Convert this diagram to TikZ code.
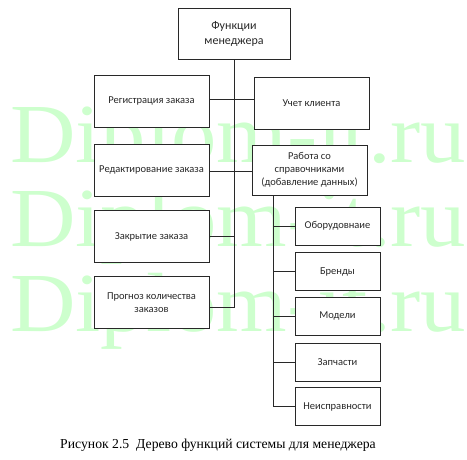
\documentclass[tikz,border=0pt]{standalone}
\usepackage{fontspec}
\setmainfont{Carlito}
\newfontfamily\capfont{Liberation Serif}
\definecolor{lineclr}{RGB}{40,40,40}
\definecolor{wmclr}{RGB}{205,255,205}
\tikzset{
    fbox/.style={draw=lineclr, fill=white, line width=0.9pt, align=center,
        inner sep=1pt, text=lineclr, font=\fontsize{10.5}{13}\selectfont},
    link/.style={draw=lineclr, line width=0.9pt},
    wmark/.style={text=wmclr, anchor=base west, inner sep=0pt,
        font=\capfont\fontsize{84}{84}\selectfont, xscale=1.08}
}
\begin{document}
\begin{tikzpicture}[x=1pt, y=-1pt]
    \useasboundingbox (0,0) rectangle (467,460);
    % watermark
    \node[wmark] (wm1) at (10,163) {Diplom-it.ru};
    \node[wmark] (wm2) at (10,247) {Diplom-it.ru};
    \node[wmark] (wm3) at (10,331) {Diplom-it.ru};
    % root
    \node[fbox, minimum width=112pt, minimum height=51pt, font=\fontsize{12}{15}\selectfont] (root) at (234,33.5) {Функции\\менеджера};
    % left column
    \begin{scope}[every node/.append style={fbox, minimum width=115pt, minimum height=52pt}]
        \node (reg)   at (151.5,101)   {Регистрация заказа};
        \node (edit)  at (151.5,170)   {Редактирование заказа};
        \node (close) at (151.5,236.5) {Закрытие заказа};
        \node (fcast) at (151.5,302.5) {Прогноз количества\\заказов};
    \end{scope}
    % right column
    \node[fbox, minimum width=115pt, minimum height=52pt] (client) at (311.5,103) {Учет клиента};
    \node[fbox, minimum width=115pt, minimum height=50pt] (refs) at (309.5,170) {Работа со\\справочниками\\(добавление данных)};
    % reference books
    \begin{scope}[every node/.append style={fbox, minimum width=85pt, minimum height=38pt}]
        \node (equip)  at (337.5,226)   {Оборудовнаие};
        \node (brands) at (337.5,271.5) {Бренды};
        \node (models) at (337.5,316)   {Модели};
        \node (parts)  at (337.5,362)   {Запчасти};
        \node (faults) at (337.5,406.5) {Неисправности};
    \end{scope}
    % trunk
    \coordinate (tend) at (root.south |- 0,307);
    \draw[link] (root.south) -- (tend) -- (tend -| fcast.east);
    \draw[link] (reg.east |- 0,99) -- (client.west |- 0,99);
    \draw[link] (edit.east |- 0,171) -- (refs.west |- 0,171);
    \draw[link] (close.east) -- (close.east -| root.south);
    % branch of reference books
    \coordinate (bstart) at ([xshift=22pt]refs.south west);
    \draw[link] (bstart) -- (bstart |- faults.west) -- (faults.west);
    \foreach \n in {equip, brands, models, parts}
        \draw[link] (bstart |- \n.west) -- (\n.west);
    % caption
    \node[font=\capfont\fontsize{13.7}{16}\selectfont, text=black] (caption) at (218,445)
        {Рисунок 2.5\ \ Дерево функций системы для менеджера};
\end{tikzpicture}
\end{document}
